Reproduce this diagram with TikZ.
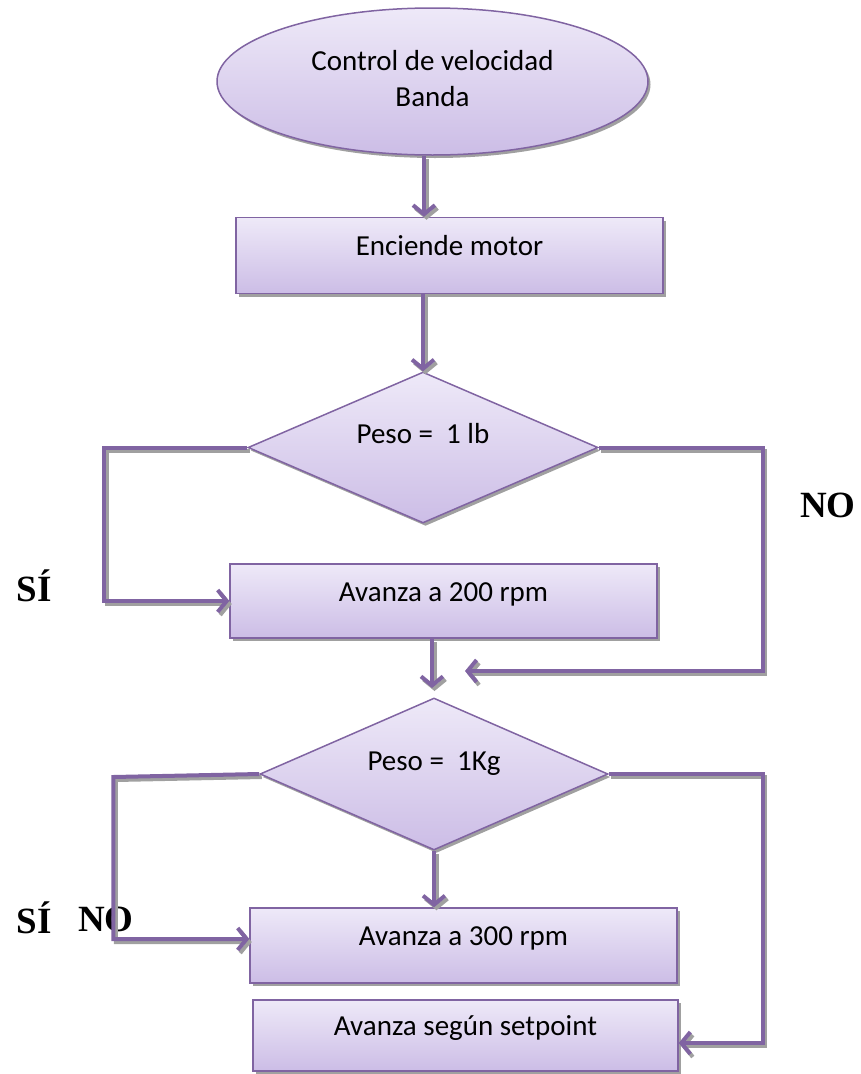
\documentclass[tikz,border=0pt]{standalone}
\usepackage{fontspec}
\setmainfont{Carlito}
\newfontfamily\tnr{Liberation Serif}
\usetikzlibrary{arrows.meta,shapes.geometric,shadows}
\definecolor{lineC}{RGB}{128,100,162}
\definecolor{fillTop}{RGB}{238,233,248}
\definecolor{fillBot}{RGB}{204,189,230}
\definecolor{shadowC}{RGB}{160,160,160}
\begin{document}
\begin{tikzpicture}[x=1pt,y=-1pt,
  shp/.style={draw=lineC, line width=1.5pt, top color=fillTop, bottom color=fillBot,
    drop shadow={shadow xshift=2.5pt, shadow yshift=-3pt, fill=shadowC, opacity=1},
    inner sep=0pt, font=\fontsize{29}{36}\selectfont},
  boxnode/.style={shp, rectangle, text height=20pt, text depth=20pt},
  decision/.style={shp, diamond, aspect=2.32, text height=20pt, text depth=28pt},
  tip/.style={-{Straight Barb[length=9pt,width=22pt]}},
  conn/.style={line width=4pt, draw=lineC, tip,
    preaction={draw=shadowC, line width=4pt, tip, transform canvas={shift={(2.5pt,-3pt)}}}},
  lbl/.style={font=\tnr\bfseries\fontsize{37}{40}\selectfont, inner sep=0pt}]
\useasboundingbox (0,0) rectangle (861,1074);

\node[shp, ellipse, minimum width=431pt, minimum height=147pt, align=center, text depth=6pt] (start) at (432.5,81.5) {Control de velocidad\\Banda};
\node[boxnode, minimum width=427pt, minimum height=76pt] (r1) at (449.5,255.5) {Enciende motor};
\node[decision, minimum width=350pt, minimum height=151pt] (d1) at (423,447.5) {Peso =\ \ 1 lb};
\node[boxnode, minimum width=427pt, minimum height=74pt] (r2) at (443.5,601) {Avanza a 200 rpm};
\node[decision, minimum width=348pt, minimum height=152pt] (d2) at (434,774) {Peso =\ \ 1Kg};
\node[boxnode, minimum width=427pt, minimum height=75pt] (r3) at (463.5,945.5) {Avanza a 300 rpm};
\node[boxnode, minimum width=425pt, minimum height=71pt] (r4) at (465.5,1035.5) {Avanza según setpoint};

\node[lbl] (si1) at (34,586) {SÍ};
\node[lbl] (no1) at (828,505) {NO};
\node[lbl] (si2) at (34,918) {SÍ};
\node[lbl] (no2) at (106,919) {NO};

\coordinate (a1) at (424,0);
\coordinate (j1) at (465,671);
\coordinate (j2) at (432,688);

\draw[conn] (start.south -| a1) -- (r1.north -| a1);
\draw[conn] (r1.south -| d1.north) -- (d1.north);
\draw[conn] (d1.west) -- ++(-143,0) |- (r2.west);
\draw[conn] (d1.east) -- ++(164,0) |- (j1);
\draw[conn] (r2.south -| j2) -- (j2);
\draw[conn] (d2.west) -- ++(-146,3) -- ++(0,162) -- ([yshift=6.5pt]r3.west);
\draw[conn] (d2.south) -- (r3.north -| d2.south);
\draw[conn] (d2.east) -- ++(154,0) |- ([yshift=-7.5pt]r4.east);
\end{tikzpicture}
\end{document}
